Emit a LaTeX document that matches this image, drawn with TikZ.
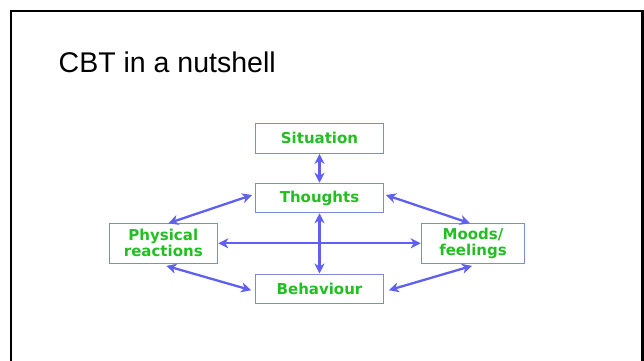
\documentclass[tikz,border=0pt]{standalone}
\usepackage{fontspec}
\setmainfont{Liberation Sans}
\newfontfamily\boxfont{DejaVu Sans}
\usetikzlibrary{arrows.meta}
\definecolor{boxgreen}{RGB}{34,190,34}
\definecolor{boxedge}{RGB}{125,138,215}
\definecolor{arrowblue}{RGB}{95,95,240}
\tikzset{
  cbtbox/.style={draw=boxedge, line width=1.1pt, fill=white, inner sep=0pt,
    text=boxgreen, font=\boxfont\bfseries\fontsize{15}{16}\selectfont, align=center},
  link/.style={draw=arrowblue, line width=2.3pt,
    {Stealth[length=10pt,width=10pt,inset=3pt]}-{Stealth[length=10pt,width=10pt,inset=3pt]}}
}
\begin{document}
\begin{tikzpicture}[x=1pt,y=-1pt]
\useasboundingbox (0,0) rectangle (644,360);
\begin{scope}
\clip (0,0) rectangle (644,360);
\draw[line width=2.8pt, black] (11,11) rectangle (642.3,390);
\end{scope}
\node[anchor=base west, inner sep=0pt, font=\fontsize{28.5}{30}\selectfont] (title) at (58.5,72) {CBT in a nutshell};

\node[cbtbox, minimum width=127.6pt, minimum height=30pt] (si) at (319.5,138.3) {Situation};
\node[cbtbox, minimum width=127.6pt, minimum height=29.4pt] (th) at (319.5,198) {Thoughts};
\node[cbtbox, minimum width=108pt, minimum height=40pt] (ph) at (163.3,243.3) {Physical\\reactions};
\node[cbtbox, minimum width=102.6pt, minimum height=40pt] (mo) at (473,243.3) {Moods/\\feelings};
\node[cbtbox, minimum width=127.6pt, minimum height=29.3pt] (be) at (319.5,288.7) {Behaviour};

\draw[link] (si.south) -- (th.north);
\draw[link] (th.south) -- (be.north);
\draw[link, shorten <=0.5pt, shorten >=0.5pt] (ph.east) -- (mo.west);
\draw[link] ([xshift=5pt,yshift=-0.5pt]ph.north) -- ([xshift=-3pt,yshift=3pt]th.west);
\draw[link] ([xshift=-3pt,yshift=-0.5pt]mo.north) -- ([xshift=2pt,yshift=3pt]th.east);
\draw[link] ([xshift=3pt,yshift=-2pt]ph.south) -- ([xshift=-4pt,yshift=-1.5pt]be.west);
\draw[link] ([xshift=-1pt,yshift=-2pt]mo.south) -- ([xshift=5pt,yshift=-1.5pt]be.east);
\end{tikzpicture}
\end{document}
